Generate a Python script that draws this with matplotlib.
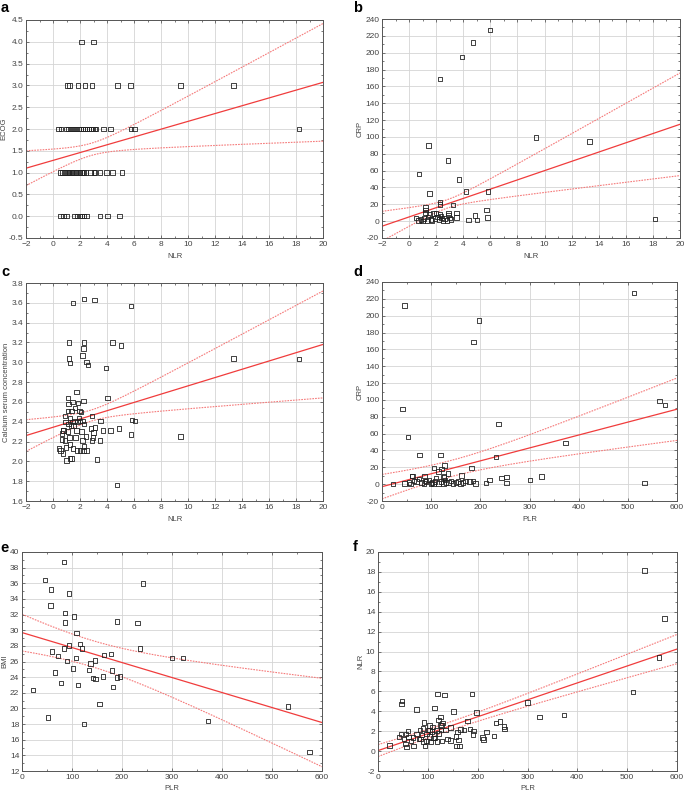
# Importing the libraries
import numpy as np
import matplotlib
matplotlib.use('Agg')
import matplotlib.pyplot as plt
from matplotlib.ticker import MultipleLocator, FormatStrFormatter

plt.rcParams['font.family'] = ['Liberation Sans', 'DejaVu Sans']

# Data
# a: ECOG vs NLR
a_nlr = [2.1, 3.0,
         1.06, 1.21, 1.85, 2.35, 2.89, 4.77, 5.75, 9.43, 13.38,
         0.4, 0.6, 1.0, 1.15, 1.3, 1.45, 1.6, 1.75, 1.9, 2.05, 2.2, 2.35, 2.5, 2.65, 2.8, 2.95, 3.1, 3.2,
         3.73, 4.27, 5.8, 6.05, 18.2,
         0.55, 0.7, 0.85, 1.0, 1.1, 1.2, 1.3, 1.4, 1.5, 1.6, 1.7, 1.85, 2.0, 2.1, 2.2, 2.3, 2.45,
         2.77, 3.04, 3.1, 3.5, 3.95, 4.42, 5.09,
         0.57, 0.79, 0.99, 1.58, 1.78, 1.98, 2.15, 2.3, 2.47, 3.5, 4.05, 4.94]
a_ecog = [4] * 2 + [3] * 9 + [2] * 23 + [1] * 24 + [0] * 12

# b: CRP vs NLR
b_nlr = [5.99, 4.73, 3.92, 2.30, 9.38, 13.31, 1.44, 2.86, 0.73, 3.68, 1.52, 4.22, 5.82,
         2.28, 2.28, 3.23, 1.22, 5.72, 3.5, 3.5, 4.88, 5.8, 4.39, 5.03, 18.16,
         0.5, 0.7, 0.9, 1.0, 1.1, 1.2, 1.3, 1.4, 1.5, 1.6, 1.7, 1.8, 1.9, 2.0, 2.1, 2.2, 2.3,
         2.4, 2.5, 2.6, 2.8, 2.9, 3.0, 3.1, 2.9, 1.2, 2.35]
b_crp = [227, 212, 194.6, 169, 99.3, 94.6, 89.8, 72, 56.3, 49.6, 33, 35.4, 35.4,
         23, 20, 19.5, 16, 13.6, 9.6, 4.5, 6.5, 4.5, 1.4, 1.7, 2.5,
         4, 1, 2, 0.5, 3, 10, 1, 5, 8, 2, 1, 9, 3, 10, 5, 2, 8,
         4, 1, 3, 1, 7, 4, 2, 10, 13, 6]

# c: Calcium vs NLR
c_nlr = [1.50, 2.31, 3.07, 5.77, 1.19, 2.31, 4.40, 5.03, 2.27, 2.19, 1.19, 1.26, 2.49, 2.61,
         3.93, 13.36, 18.24, 1.75, 1.09, 4.05, 1.16, 1.43, 1.85, 2.27, 1.65, 0.89, 1.09, 1.36,
         1.95, 2.07, 2.88, 3.51, 5.87, 6.06, 5.80, 3.69, 4.25, 4.89, 9.44, 3.49, 3.27, 4.76,
         0.43, 0.55, 0.65, 0.74, 0.72, 1.01, 0.96, 0.89, 1.09, 1.21, 1.28, 1.38, 1.26, 1.48,
         1.68, 1.75, 1.77, 2.02, 2.19, 2.12, 2.31, 2.27, 2.49, 2.46, 2.88, 2.83, 3.00, 2.98,
         3.12, 1.14, 1.33, 1.51, 1.58, 1.82, 2.02, 2.19, 2.31, 1.92, 1.26, 0.94, 1.45, 0.77, 0.65]
c_ca = [3.60, 3.64, 3.63, 3.57, 3.20, 3.20, 3.20, 3.17, 3.14, 3.07, 3.04, 2.99, 3.00, 2.97,
        2.94, 3.04, 3.03, 2.70, 2.64, 2.64, 2.58, 2.60, 2.59, 2.61, 2.54, 2.46, 2.51, 2.51,
        2.51, 2.50, 2.46, 2.41, 2.42, 2.41, 2.27, 2.31, 2.31, 2.33, 2.25, 2.21, 2.02, 1.76,
        2.13, 2.11, 2.22, 2.08, 2.31, 2.01, 2.14, 2.21, 2.30, 2.24, 2.03, 2.03, 2.17, 2.13,
        2.24, 2.31, 2.11, 2.11, 2.21, 2.30, 2.15, 2.11, 2.11, 2.25, 2.21, 2.33, 2.29, 2.24,
        2.34, 2.38, 2.36, 2.36, 2.41, 2.40, 2.41, 2.41, 2.38, 2.44, 2.44, 2.40, 2.40, 2.31, 2.28]

# d: CRP vs PLR
d_plr = [512.5, 46.1, 197.3, 185.8, 564.7, 575.6, 41.4, 52.9, 236.6, 373.6, 76.6, 118.6, 231.9,
         126.8, 105.8, 182.4, 120.7, 115.3, 134.2, 162, 61, 86.8, 126, 324.7, 253.6, 243.4, 301,
         218.3, 534.2, 22.4, 211.5, 252.9,
         46, 55, 58, 65, 70, 75, 80, 85, 90, 95, 100, 102, 105, 108, 110, 115, 120, 125, 128,
         130, 135, 140, 145, 150, 155, 160, 165, 170, 178, 185, 190, 62, 88, 125]
d_crp = [227.2, 212.2, 194.3, 168.9, 98.6, 94.3, 89.5, 55.8, 71.6, 48.6, 34.4, 34.4, 32.0,
         22, 19.3, 18.9, 18.1, 14.9, 12.5, 10.2, 9.4, 9.4, 9, 9, 8.6, 7, 5,
         4.6, 1.4, 0.2, 1.4, 1.4,
         1, 2, 0.5, 4, 3, 6, 2, 1, 3, 5, 1, 2, 0.5, 3, 7, 1, 3, 1, 5,
         2, 2, 4, 1, 2, 3, 1, 2, 4, 3, 4, 1, 10, 4, 8]

# e: BMI vs PLR
e_plr = [83.4, 46.1, 242.3, 57.4, 94.1, 56.7, 86.1, 104.1, 86.1, 189.6, 231, 108.8, 93.5, 116.2,
         83.4, 120.2, 235.6, 59.4, 72.1, 163.6, 177.6, 107.5, 299.7, 322.4, 89.5, 145.5, 136.8,
         101.5, 133.5, 179.6, 65.4, 142.2, 146.9, 162.2, 189.6, 196.3, 77.4, 111.5, 182.2, 22,
         154.9, 532, 371.8, 51.4, 124.2, 574.8]
e_bmi = [38.72, 36.41, 35.98, 35.2, 34.7, 33.16, 32.2, 31.75, 31.0, 31.1, 30.94, 29.66, 28.03, 28.25,
         27.65, 27.65, 27.65, 27.26, 26.7, 26.84, 26.96, 26.41, 26.45, 26.45, 26.07, 26.15, 25.72,
         25.08, 24.91, 24.83, 24.61, 23.89, 23.76, 24.06, 23.93, 24.06, 23.29, 23.03, 22.73, 22.39,
         20.59, 20.25, 18.41, 18.84, 17.99, 14.44]

# f: NLR vs PLR
f_plr = [534.4, 575.3, 563.9, 511.7, 300.3, 324.4, 373.2, 119.1, 133.8, 188.6, 48.2, 47.5, 76.9,
         113.7, 151.8, 198, 125.1, 121.1, 179.3, 92.3, 129.1, 236.8, 244.8, 252.8, 254.2, 218.1,
         232.8, 210, 212, 103.7, 127.1, 145.8, 165.9, 172.6, 184.6, 191.3, 190.6, 159.2, 156.5,
         139.1, 145.2, 161.9, 157.2, 163.2,
         22.7, 42.1, 46.2, 52.2, 54.8, 57.5, 60.2, 56.2, 61.5, 66.2, 71.6, 70.2, 77.6, 84.3, 82.3,
         88.3, 90.3, 94.3, 97.7, 100.3, 103, 105.7, 108.4, 111, 113.7, 117.1, 118.4, 121.7, 125.1,
         126.4, 128.4, 135.1, 85.6, 91.6, 97, 103.7, 109, 114.4]
f_nlr = [18.16, 13.32, 9.39, 5.96, 4.89, 3.44, 3.61, 5.76, 5.66, 5.76, 5.06, 4.72, 4.18,
         4.35, 3.98, 3.88, 3.44, 3.14, 3.04, 2.87, 2.84, 2.84, 2.97, 2.47, 2.23, 1.93,
         1.49, 1.36, 1.16, 2.57, 2.57, 2.37, 2.17, 2.13, 2.23, 2.03, 1.66, 1.90, 1.46,
         1.23, 1.06, 1.13, 0.52, 0.49,
         0.55, 1.39, 1.73, 1.23, 0.72, 0.42, 2.0, 1.73, 1.39, 1.02, 0.49, 1.36, 1.73, 2.1, 1.23,
         1.63, 2.27, 0.49, 1.02, 2.1, 1.46, 0.92, 1.97, 1.29, 1.7, 2.06, 0.96, 1.76, 2.64,
         2.1, 1.02, 2.1, 1.23, 0.96, 1.73, 2.1, 2.44, 1.29]

# Fitted lines: intercept, slope, band centre, band half-width at centre, band growth
fits = {
    'a': (1.28, 0.0895, 2.8, 0.14, 0.078),
    'b': (5.0, 5.5, 2.8, 5.0, 3.53),
    'c': (2.344, 0.0418, 2.8, 0.056, 0.0312),
    'd': (-3.0, 0.1533, 140, 9.6, 0.0777),
    'e': (29.7, -0.01917, 140, 1.68, 0.01173),
    'f': (0.05, 0.0170, 140, 0.42, 0.00306),
}

W, H = 684, 793
fig = plt.figure(figsize=(W / 100, H / 100), dpi=100)

# left, right, top, bottom of each plot box in pixels, and letter position (x, baseline)
boxes = {
    'a': (26, 323, 20, 238),
    'b': (382, 680, 19, 238),
    'c': (26, 323, 283, 501),
    'd': (382, 677, 282, 501),
    'e': (22, 322, 552, 771),
    'f': (378, 677, 552, 771),
}
letters = {'a': (1, 12), 'b': (353, 12), 'c': (1, 276), 'd': (353, 276), 'e': (0, 552), 'f': (353, 551)}

panels = [
    ('a', a_nlr, a_ecog, 'NLR', 'ECOG', (-2, 20), (-0.5, 4.5), 2, 0.5, '%.1f'),
    ('b', b_nlr, b_crp, 'NLR', 'CRP', (-2, 20), (-20, 240), 2, 20, '%d'),
    ('c', c_nlr, c_ca, 'NLR', 'Calcium serum concentration', (-2, 20), (1.6, 3.8), 2, 0.2, '%.1f'),
    ('d', d_plr, d_crp, 'PLR', 'CRP', (0, 600), (-20, 240), 100, 20, '%d'),
    ('e', e_plr, e_bmi, 'PLR', 'BMI', (0, 600), (12, 40), 100, 2, '%d'),
    ('f', f_plr, f_nlr, 'PLR', 'NLR', (0, 600), (-2, 20), 100, 2, '%d'),
]

red = '#f03c3c'
pink = '#f57a7a'
for key, x, y, xl, yl, xlim, ylim, xstep, ystep, yfmt in panels:
    l, r, t, b = boxes[key]
    ax = fig.add_axes([l / W, 1 - b / H, (r - l) / W, (b - t) / H])
    ax.scatter(x, y, marker='s', s=10, facecolors='none', edgecolors='#222222', linewidths=0.6, zorder=3)

    # regression line with confidence band
    b0, b1, x0, w0, k = fits[key]
    xs = np.linspace(xlim[0], xlim[1], 200)
    yhat = b0 + b1 * xs
    hw = np.sqrt(w0 ** 2 + (k * (xs - x0)) ** 2)
    ax.plot(xs, yhat, color=red, lw=0.9, zorder=2)
    ax.plot(xs, yhat + hw, color=pink, lw=0.8, ls=(0, (1.5, 1)), zorder=2)
    ax.plot(xs, yhat - hw, color=pink, lw=0.8, ls=(0, (1.5, 1)), zorder=2)

    ax.set_xlim(xlim)
    ax.set_ylim(ylim)
    ax.xaxis.set_major_locator(MultipleLocator(xstep))
    ax.yaxis.set_major_locator(MultipleLocator(ystep))
    ax.xaxis.set_minor_locator(MultipleLocator(xstep / 2))
    ax.yaxis.set_minor_locator(MultipleLocator(ystep / 2))
    ax.yaxis.set_major_formatter(FormatStrFormatter(yfmt))
    ax.grid(True, which='major', color='#d4d4d4', lw=0.6)
    ax.set_axisbelow(True)
    ax.tick_params(which='both', direction='in', top=True, right=True,
                   labelsize=6, colors='#444444', pad=2)
    ax.tick_params(which='major', length=2.5, width=0.5)
    ax.tick_params(which='minor', length=1.5, width=0.5)
    for sp in ax.spines.values():
        sp.set_color('#555555')
        sp.set_linewidth(0.7)
    ax.set_xlabel(xl, fontsize=5.5, color='#444444', labelpad=4 if key in 'abcd' else 3)
    ax.set_ylabel(yl, fontsize=5.5, color='#444444', labelpad=1)

    lx, ly = letters[key]
    fig.text(lx / W, 1 - ly / H, key, fontsize=10.5, fontweight='bold', va='baseline', ha='left')

fig.savefig('out.png', dpi=100)
